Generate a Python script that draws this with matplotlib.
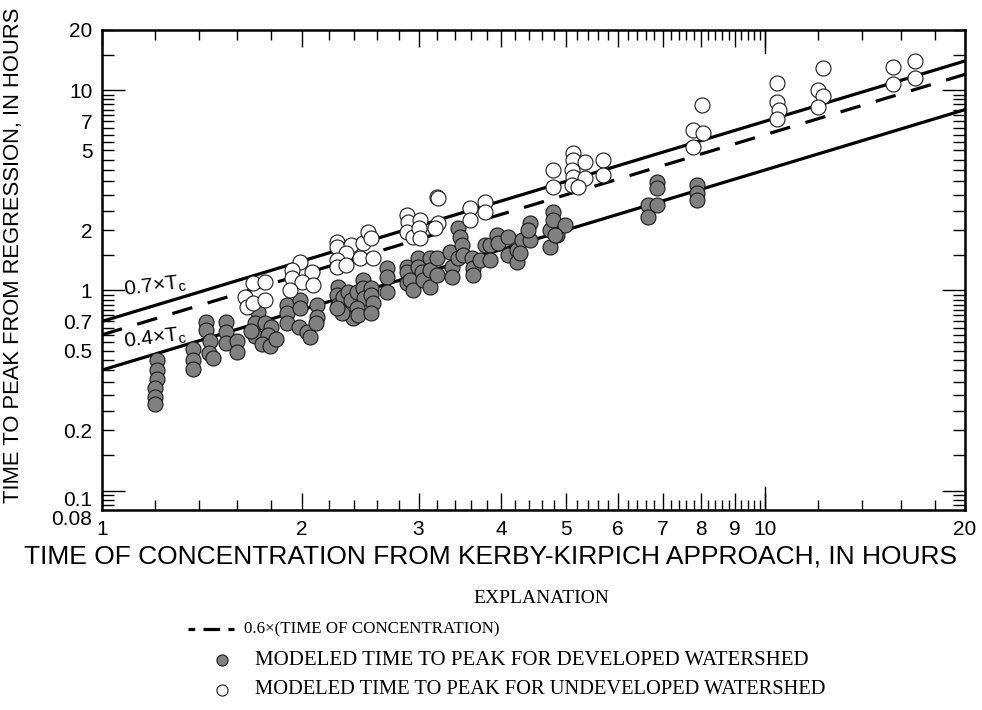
import matplotlib
matplotlib.use('Agg')
import matplotlib.pyplot as plt
from matplotlib.lines import Line2D
import numpy as np

plt.rcParams['font.family'] = 'Liberation Sans'
plt.rcParams['mathtext.fontset'] = 'custom'
plt.rcParams['mathtext.rm'] = 'Liberation Sans'
plt.rcParams['mathtext.it'] = 'Liberation Sans'

# Developed watersheds: Kerby-Kirpich Tc (hours) vs regression time to peak (hours)
dev_tc = [1.21, 1.21, 1.21, 1.20, 1.20, 1.20,
          1.37, 1.37, 1.37, 1.435, 1.435, 1.455, 1.45, 1.47,
          1.54, 1.54, 1.54, 1.60, 1.60,
          1.72, 1.70, 1.76, 1.80, 1.70, 1.78, 1.74, 1.79, 1.68, 1.83,
          1.90, 1.90, 1.90, 1.99, 1.99, 1.98, 2.04, 2.06, 2.11, 2.11, 2.10,
          2.27, 2.26, 2.27, 2.31, 2.35, 2.37, 2.42, 2.47, 2.47, 2.48, 2.54, 2.54,
          2.56, 2.42, 2.39, 2.43, 2.54, 2.30, 2.26,
          2.69, 2.69, 2.69,
          2.88, 2.88, 2.88, 2.99, 2.99, 2.91, 2.94, 3.04, 3.05, 3.12, 3.12, 3.12,
          3.20, 3.20,
          3.35, 3.37, 3.37, 3.44, 3.46, 3.49, 3.44, 3.50, 3.61, 3.62, 3.62,
          3.78, 3.72, 3.85, 3.85, 3.94, 3.96, 4.10, 4.10, 4.23, 4.23, 4.30, 4.27,
          4.42, 4.42, 4.39,
          4.74, 4.79, 4.79, 4.74, 4.86, 4.99, 4.82,
          6.87, 6.87, 6.66, 6.87, 6.66,
          7.90, 7.90, 7.90]
dev_tp = [0.447, 0.40, 0.363, 0.327, 0.292, 0.272,
          0.507, 0.447, 0.403, 0.692, 0.631, 0.556, 0.484, 0.462,
          0.692, 0.617, 0.543, 0.562, 0.490,
          0.776, 0.684, 0.684, 0.66, 0.59, 0.60, 0.54, 0.53, 0.63, 0.57,
          0.841, 0.767, 0.684, 0.891, 0.813, 0.653, 0.617, 0.582, 0.841, 0.733, 0.684,
          1.035, 0.944, 0.841, 0.923, 0.977, 0.891, 0.977, 1.122, 1.023, 0.912, 1.023, 0.944,
          0.861, 0.813, 0.724, 0.75, 0.767, 0.767, 0.813,
          1.288, 1.161, 0.977,
          1.303, 1.23, 1.084, 1.445, 1.303, 1.122, 1.0, 1.23, 1.122, 1.445, 1.259, 1.035,
          1.445, 1.189,
          1.549, 1.303, 1.161, 2.04, 1.841, 1.679, 1.445, 1.496, 1.445, 1.288, 1.189,
          1.679, 1.413, 1.679, 1.413, 1.884, 1.718, 1.841, 1.496, 1.585, 1.38, 1.778, 1.531,
          2.16, 1.778, 1.995,
          1.995, 2.455, 2.24, 1.641, 1.884, 2.12, 1.884,
          3.467, 3.236, 2.661, 2.661, 2.317,
          3.35, 3.055, 2.818]

# Undeveloped watersheds
und_tc = [1.64, 1.655, 1.69, 1.76, 1.69, 1.76,
          1.99, 1.935, 1.935, 2.07, 2.00, 2.08, 1.92,
          2.26, 2.26, 2.37, 2.47, 2.52, 2.54, 2.33, 2.26, 2.26, 2.33, 2.45, 2.56,
          2.88, 2.89, 2.88, 2.94, 3.02, 3.00, 3.02, 3.20, 3.21, 3.21, 3.18,
          3.59, 3.59, 3.78, 3.78,
          4.79, 4.79, 5.13, 5.13, 5.12, 5.35, 5.13, 5.12, 5.35, 5.21, 5.70, 5.70,
          8.04, 7.79, 8.06, 7.79,
          10.43, 10.43, 10.5, 10.43, 12.23, 12.02, 12.23, 12.02,
          15.6, 15.6, 16.8, 16.8]
und_tp = [0.923, 0.822, 1.084, 1.096, 0.861, 0.891,
          1.38, 1.259, 1.148, 1.23, 1.096, 1.059, 1.0,
          1.738, 1.641, 1.679, 1.718, 1.95, 1.82, 1.531, 1.413, 1.303, 1.334, 1.445, 1.445,
          2.371, 2.188, 1.95, 1.841, 2.239, 2.042, 1.82, 2.917, 2.884, 2.163, 2.06,
          2.57, 2.239, 2.754, 2.455,
          3.98, 3.27, 4.84, 4.47, 3.98, 4.365, 3.67, 3.35, 3.63, 3.27, 4.47, 3.76,
          8.41, 6.31, 6.08, 5.19,
          10.83, 8.71, 7.94, 7.16, 12.85, 10.0, 9.33, 8.22,
          13.0, 10.71, 13.96, 11.46]

# Reference lines (multiples of time of concentration)
line_tc = np.array([1.0, 20.0])
factors = [0.7, 0.6, 0.4]

x_major = [1, 2, 3, 4, 5, 6, 7, 8, 9, 10, 20]
y_long = [0.1, 1, 10]
y_labeled = [0.2, 0.5, 0.7, 2, 5, 7, 20]

fig = plt.figure(figsize=(9.82, 7.10), dpi=100)
ax = fig.add_axes([0.1039, 0.2817, 0.8788, 0.6761])
ax.set_xscale('log')
ax.set_yscale('log')
ax.set_xlim(1, 20)
ax.set_ylim(0.08, 20)

# lines
ax.plot(line_tc, factors[0] * line_tc, color='black', lw=2.3, zorder=2)
ax.plot(line_tc, factors[1] * line_tc, color='black', lw=2.3, zorder=2,
        dashes=(6.5, 5))
ax.plot(line_tc, factors[2] * line_tc, color='black', lw=2.3, zorder=2)

# points
ax.plot(dev_tc, dev_tp, 'o', ms=10.8, mfc='#808080', mec='#1a1a1a', mew=0.8,
        ls='none', zorder=3)
ax.plot(und_tc, und_tp, 'o', ms=10.8, mfc='white', mec='#1a1a1a', mew=0.8,
        ls='none', zorder=4)

# line labels
ax.text(1.20, 1.04, r'0.7$\times$T$_{\rm c}$', fontsize=15, rotation=7,
        ha='center', va='center', zorder=5)
ax.text(1.20, 0.575, r'0.4$\times$T$_{\rm c}$', fontsize=15, rotation=7,
        ha='center', va='center', zorder=5)

# x ticks
x_minor = [round(v, 1) for v in np.arange(1.2, 10.0, 0.2)
           if abs(v - round(v)) > 0.05] + [12, 14, 16, 18]
ax.set_xticks(x_major, labels=[str(v) for v in x_major])
ax.set_xticks(x_minor, labels=['' for v in x_minor], minor=True)

# y ticks: long ones as major, the rest as minor
y_minor = ([0.085, 0.09, 0.095]
           + [round(v, 2) for v in np.arange(0.15, 0.99, 0.05)]
           + [round(v, 1) for v in np.arange(1.5, 9.9, 0.5)]
           + [15, 20])
ax.set_yticks(y_long, labels=['', '1', '10'])
ax.set_yticks(y_minor,
              labels=[('%g' % v if v in y_labeled else '') for v in y_minor],
              minor=True)

ax.tick_params(axis='both', which='both', direction='in', top=True, right=True,
               width=1.0, labelsize=15, colors='black')
ax.tick_params(axis='x', which='major', length=12.5, pad=7)
ax.tick_params(axis='x', which='minor', length=7.5, pad=7)
ax.tick_params(axis='y', which='major', length=16.5, pad=7)
ax.tick_params(axis='y', which='minor', length=8.5, pad=7)

# extra-long tick at 10 on the x axis
for yy in (0, 1):
    sgn = 1 if yy == 0 else -1
    ax.plot([10, 10], [yy, yy + sgn * 0.048], color='black', lw=1.0,
            transform=ax.get_xaxis_transform(), clip_on=False)

# labels 0.1 and 0.08 sit a bit lower
for v, s in [(0.1, '0.1'), (0.08, '0.08')]:
    ax.text(-0.0116, v, s, fontsize=15, ha='right', va='top',
            transform=ax.get_yaxis_transform())

for sp in ax.spines.values():
    sp.set_linewidth(1.8)

ax.set_xlabel('TIME OF CONCENTRATION FROM KERBY-KIRPICH APPROACH, IN HOURS',
              fontsize=19)
ax.xaxis.set_label_coords(0.4496, -0.071)
ax.set_ylabel('TIME TO PEAK FROM REGRESSION, IN HOURS', fontsize=15.8)
ax.yaxis.set_label_coords(-0.09, 0.531)

# explanation block
serif = 'Liberation Serif'
fig.text(0.5509, 0.1577, 'EXPLANATION', family=serif, fontsize=14,
         ha='center', va='center')
fig.add_artist(Line2D([0.1914, 0.2385], [0.1141, 0.1141], color='black',
                      lw=2.3, linestyle=(3.1, (5.2, 2.6)),
                      dash_capstyle='butt', transform=fig.transFigure))
fig.text(0.2485, 0.1141, '0.6\u00d7(TIME OF CONCENTRATION)', family=serif,
         fontsize=12.2, ha='left', va='center')
fig.add_artist(Line2D([0.2261], [0.0704], marker='o', ms=8, mfc='#808080',
                      mec='#1a1a1a', mew=0.8, transform=fig.transFigure))
fig.text(0.2597, 0.0704, 'MODELED TIME TO PEAK FOR DEVELOPED WATERSHED',
         family=serif, fontsize=15, ha='left', va='center')
fig.add_artist(Line2D([0.2261], [0.0282], marker='o', ms=8, mfc='white',
                      mec='#1a1a1a', mew=0.8, transform=fig.transFigure))
fig.text(0.2597, 0.0282, 'MODELED TIME TO PEAK FOR UNDEVELOPED WATERSHED',
         family=serif, fontsize=14.8, ha='left', va='center')

fig.savefig('out.png', dpi=100)
